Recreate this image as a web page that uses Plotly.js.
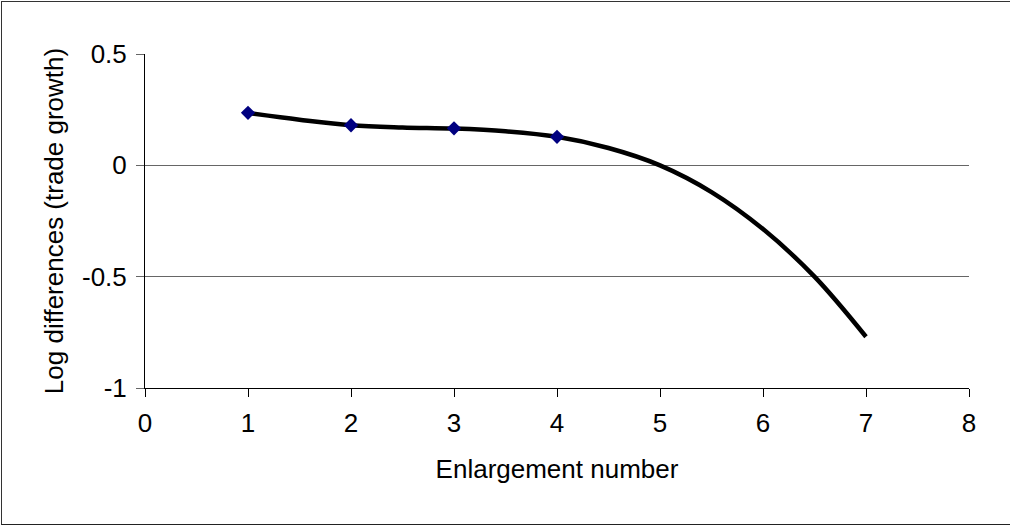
<!DOCTYPE html>
<html>
<head>
<meta charset="utf-8">
<script src="https://cdn.plot.ly/plotly-3.0.1.min.js"></script>
<style>
  html, body { margin: 0; padding: 0; background: #fff; overflow: hidden; }
  #wrap { position: relative; width: 1010px; height: 527px; overflow: hidden; }
  #chart { width: 1010px; height: 527px; }
  #frame { position: absolute; left: 1px; top: 1px; width: 1030px; height: 522px;
           border-left: 1.5px solid #333; border-top: 1.5px solid #333; border-bottom: 1.5px solid #222;
           pointer-events: none; }
</style>
</head>
<body>
<div id="wrap">
  <div id="chart"></div>
  <div id="frame"></div>
</div>
<script>
// Observed data points
const enlargement = [1, 2, 3, 4];
const logDiff = [0.236, 0.180, 0.166, 0.128];

// Trend curve
const trendX = [1, 1.5, 2, 2.5, 3, 3.5, 4, 4.5, 5, 5.5, 6, 6.5, 7];
const trendY = [0.235, 0.205, 0.180, 0.170, 0.165, 0.153, 0.128, 0.078, 0.000, -0.120, -0.286, -0.500, -0.770];

const xTicks = [0, 1, 2, 3, 4, 5, 6, 7, 8];
const yTicks = [-1, -0.5, 0, 0.5];
const yTickText = ['-1', '-0.5', '0', '0.5'];

const font = 'Liberation Sans, Arial, sans-serif';

const traces = [
  {
    x: trendX, y: trendY, type: 'scatter', mode: 'lines',
    line: { color: '#000000', width: 4.5, shape: 'spline', smoothing: 1 },
    hoverinfo: 'skip', showlegend: false
  },
  {
    x: enlargement, y: logDiff, type: 'scatter', mode: 'markers',
    marker: { symbol: 'diamond', size: 11, color: '#000080', line: { width: 0 } },
    showlegend: false
  }
];

const layout = {
  width: 1010, height: 527,
  margin: { l: 145, r: 41, t: 54, b: 139 },
  paper_bgcolor: '#ffffff', plot_bgcolor: '#ffffff',
  font: { family: font, size: 26, color: '#000000' },
  showlegend: false,
  xaxis: {
    range: [0, 8], tickvals: xTicks, ticktext: xTicks.map(String),
    showgrid: false, zeroline: false,
    showline: true, linecolor: '#000000', linewidth: 1,
    ticks: 'outside', ticklen: 8, tickcolor: '#000000', tickwidth: 1,
    ticklabelstandoff: 4,
    tickfont: { family: font, size: 26, color: '#000000' },
    title: { text: 'Enlargement number', font: { family: font, size: 26, color: '#000000' }, standoff: 22 },
    fixedrange: true
  },
  yaxis: {
    range: [-1, 0.5], tickvals: yTicks, ticktext: yTickText,
    showgrid: true, gridcolor: '#666666', gridwidth: 1, zeroline: false,
    showline: true, linecolor: '#000000', linewidth: 1,
    ticks: 'outside', ticklen: 8, tickcolor: '#666666', tickwidth: 1,
    ticklabelstandoff: 4,
    tickfont: { family: font, size: 26, color: '#000000' },
    title: { text: 'Log differences (trade growth)', font: { family: font, size: 26, color: '#000000' }, standoff: 10 },
    fixedrange: true
  }
};

Plotly.newPlot('chart', traces, layout, { displayModeBar: false, staticPlot: true });
</script>
</body>
</html>
